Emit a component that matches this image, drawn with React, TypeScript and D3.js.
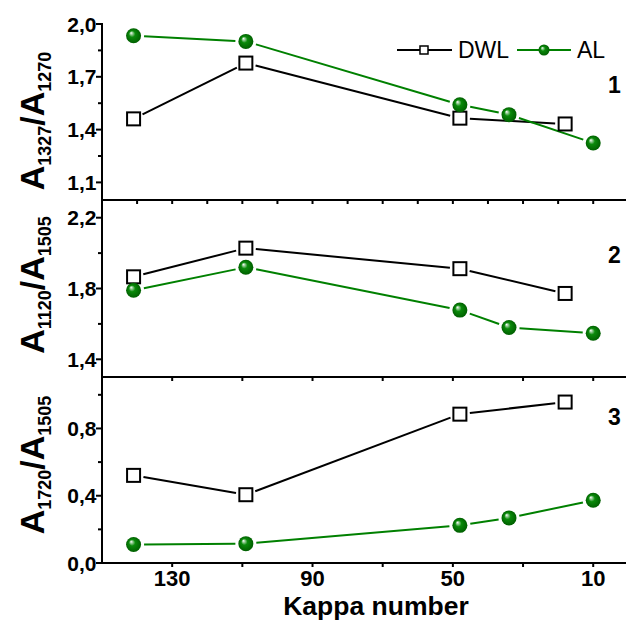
import React from "react";
import * as d3 from "d3";

const kappaDWL = [141, 109, 48, 18];
const kappaAL = [141, 109, 48, 34, 10];
const p1DWL = [1.461, 1.778, 1.465, 1.432];
const p1AL = [1.933, 1.901, 1.541, 1.485, 1.324];
const p2DWL = [1.866, 2.028, 1.912, 1.772];
const p2AL = [1.79, 1.92, 1.678, 1.58, 1.547];
const p3DWL = [0.521, 0.406, 0.885, 0.957];
const p3AL = [0.11, 0.115, 0.224, 0.268, 0.373];

const xTickLabels = [130, 90, 50, 10];
const p1Ticks = [2.0, 1.7, 1.4, 1.1];
const p1Minor = [1.85, 1.55, 1.25];
const p2Ticks = [2.2, 1.8, 1.4];
const p2Minor = [2.0, 1.6];
const p3Ticks = [0.8, 0.4, 0.0];
const p3Minor = [1.0, 0.6, 0.2];
const legendNames = ["DWL", "AL"];
const panelNames = ["1", "2", "3"];
const yTitles = [
  ["1327", "1270"],
  ["1120", "1505"],
  ["1720", "1505"],
];

const FONT = "'Liberation Sans', Arial, sans-serif";
const GREEN = "#008000";

const x = d3.scaleLinear().domain([150, 0]).range([102, 628.3]);

const panels = [
  { y: d3.scaleLinear().domain([1.0, 2.0]).range([200, 24]), dwl: p1DWL, al: p1AL, ticks: p1Ticks, minor: p1Minor, xStep: 10, titleY: 121 },
  { y: d3.scaleLinear().domain([1.3, 2.3]).range([377, 200]), dwl: p2DWL, al: p2AL, ticks: p2Ticks, minor: p2Minor, xStep: 20, titleY: 285 },
  { y: d3.scaleLinear().domain([0, 1.1]).range([563, 378]), dwl: p3DWL, al: p3AL, ticks: p3Ticks, minor: p3Minor, xStep: 20, titleY: 465 },
];

const fmt = (v: number) => d3.format(".1f")(v).replace(".", ",");

function gapSegments(pts: [number, number][], gap: number) {
  const segs: [number, number, number, number][] = [];
  for (let i = 0; i < pts.length - 1; i++) {
    const [x1, y1] = pts[i];
    const [x2, y2] = pts[i + 1];
    const dx = x2 - x1, dy = y2 - y1;
    const len = Math.hypot(dx, dy);
    if (len <= 2 * gap) continue;
    const ux = dx / len, uy = dy / len;
    segs.push([x1 + ux * gap, y1 + uy * gap, x2 - ux * gap, y2 - uy * gap]);
  }
  return segs;
}

function Ball({ cx, cy, r }: { cx: number; cy: number; r: number }) {
  return <circle cx={cx} cy={cy} r={r} fill="url(#ballGrad)" />;
}

export default function App() {
  const xTicks10 = d3.range(140, 0, -10);
  const xTicks20 = d3.range(130, 0, -20);
  return (
    <svg width={626} height={621} style={{ position: "absolute", left: 0, top: 0, background: "#fff" }} fontFamily={FONT}>
      <defs>
        <radialGradient id="ballGrad" cx="0.5" cy="0.5" r="0.5" fx="0.33" fy="0.3">
          <stop offset="0" stopColor="#ffffff" />
          <stop offset="0.16" stopColor="#9fd09f" />
          <stop offset="0.42" stopColor="#0a8a0a" />
          <stop offset="1" stopColor="#005f00" />
        </radialGradient>
      </defs>
      <rect x={0} y={0} width={626} height={621} fill="#fff" />

      {panels.map((p, pi) => {
        const y = p.y;
        const [yBottom] = y.range();
        const dwlPts = kappaDWL.map((k, i) => [x(k), y(p.dwl[i])] as [number, number]);
        const alPts = kappaAL.map((k, i) => [x(k), y(p.al[i])] as [number, number]);
        const xt = p.xStep === 10 ? xTicks10 : xTicks20;
        return (
          <g key={pi}>
            <line x1={101} x2={630} y1={yBottom} y2={yBottom} stroke="#000" strokeWidth={2} />
            {xt.map((t) => (
              <line key={t} x1={x(t)} x2={x(t)} y1={yBottom} y2={yBottom + 4} stroke="#000" strokeWidth={2} />
            ))}
            {p.ticks.map((t) => (
              <g key={t}>
                <line x1={96} x2={102} y1={y(t)} y2={y(t)} stroke="#000" strokeWidth={2} />
                <text x={96.5} y={y(t)} dy="0.36em" textAnchor="end" fontSize={21} fontWeight="bold">
                  {fmt(t)}
                </text>
              </g>
            ))}
            {p.minor.map((t) => (
              <line key={t} x1={98} x2={102} y1={y(t)} y2={y(t)} stroke="#000" strokeWidth={2} />
            ))}
            <text
              transform={`translate(44,${p.titleY}) rotate(-90)`}
              textAnchor="middle"
              fontSize={34}
              fontWeight="bold"
            >
              <tspan>A</tspan>
              <tspan fontSize={18} dy={7}>{yTitles[pi][0]}</tspan>
              <tspan dy={-7}>/A</tspan>
              <tspan fontSize={18} dy={7}>{yTitles[pi][1]}</tspan>
            </text>
            {gapSegments(dwlPts, 10).map((s, i) => (
              <line key={"d" + i} x1={s[0]} y1={s[1]} x2={s[2]} y2={s[3]} stroke="#000" strokeWidth={2} />
            ))}
            {gapSegments(alPts, 10.5).map((s, i) => (
              <line key={"a" + i} x1={s[0]} y1={s[1]} x2={s[2]} y2={s[3]} stroke={GREEN} strokeWidth={2} />
            ))}
            {dwlPts.map(([cx, cy], i) => (
              <rect key={"ds" + i} x={cx - 6.5} y={cy - 6.5} width={13} height={13} fill="#fff" stroke="#000" strokeWidth={2} />
            ))}
            {alPts.map(([cx, cy], i) => (
              <Ball key={"ab" + i} cx={cx} cy={cy} r={7.5} />
            ))}
            <text x={608} y={[93, 263, 425][pi]} fontSize={23} fontWeight="bold">
              {panelNames[pi]}
            </text>
          </g>
        );
      })}

      <line x1={102} x2={102} y1={23} y2={564} stroke="#000" strokeWidth={2} />
      <line x1={96} x2={102} y1={24} y2={24} stroke="#000" strokeWidth={2} />

      {xTickLabels.map((t) => (
        <text key={t} x={x(t)} y={585.5} textAnchor="middle" fontSize={22} fontWeight="bold">
          {t}
        </text>
      ))}
      <text x={376} y={615} textAnchor="middle" fontSize={26.5} fontWeight="bold">
        Kappa number
      </text>

      <line x1={397} x2={452} y1={50} y2={50} stroke="#000" strokeWidth={2} />
      <rect x={420} y={46} width={8} height={8} fill="#fff" stroke="#000" strokeWidth={1.5} />
      <text x={458} y={50} dy="0.36em" fontSize={23}>{legendNames[0]}</text>
      <line x1={517} x2={571} y1={50} y2={50} stroke={GREEN} strokeWidth={2} />
      <Ball cx={544} cy={50} r={5.5} />
      <text x={577} y={50} dy="0.36em" fontSize={23}>{legendNames[1]}</text>
    </svg>
  );
}
